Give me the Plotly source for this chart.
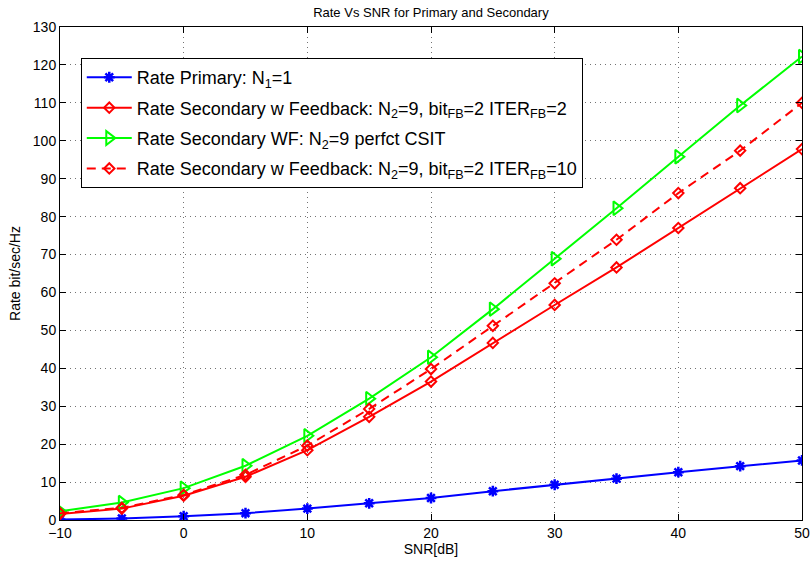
import plotly.graph_objects as go

# SNR sweep in dB
snr_db = [-10, -5, 0, 5, 10, 15, 20, 25, 30, 35, 40, 45, 50]

# Achievable rates (bit/sec/Hz)
rate_primary = [0.1, 0.4, 1.0, 1.8, 3.0, 4.4, 5.8, 7.6, 9.3, 10.9, 12.6, 14.2, 15.7]
rate_sec_fb2 = [1.6, 3.0, 6.4, 11.4, 18.4, 27.2, 36.5, 46.7, 56.7, 66.6, 77.0, 87.5, 97.8]
rate_sec_wf = [2.3, 4.6, 8.4, 14.3, 22.2, 32.0, 42.9, 55.6, 68.9, 82.2, 95.8, 109.3, 122.2]
rate_sec_fb10 = [1.8, 3.2, 6.6, 11.9, 19.6, 29.3, 39.8, 51.2, 62.4, 73.9, 86.2, 97.4, 110.0]

names = [
    "Rate Primary: N<sub>1</sub>=1",
    "Rate Secondary w Feedback: N<sub>2</sub>=9, bit<sub>FB</sub>=2 ITER<sub>FB</sub>=2",
    "Rate Secondary WF: N<sub>2</sub>=9 perfct CSIT",
    "Rate Secondary w Feedback: N<sub>2</sub>=9, bit<sub>FB</sub>=2 ITER<sub>FB</sub>=10",
]

FONT = "Liberation Sans, Arial, Helvetica, sans-serif"

diamond = dict(symbol="diamond-open", size=8, color="#ff0000",
               line=dict(color="#ff0000", width=2))

fig = go.Figure()
fig.add_trace(go.Scatter(
    x=snr_db, y=rate_primary, name=names[0], mode="lines+markers", legendgroup="a",
    line=dict(color="#0000ff", width=2),
    marker=dict(symbol="asterisk-open", size=9, line=dict(color="#0000ff", width=2.5)),
))
fig.add_trace(go.Scatter(
    x=snr_db, y=rate_sec_fb2, name=names[1], mode="lines+markers", legendgroup="b",
    line=dict(color="#ff0000", width=2), marker=diamond,
))
fig.add_trace(go.Scatter(
    x=snr_db, y=rate_sec_wf, name=names[2], mode="lines+markers", legendgroup="c",
    line=dict(color="#00ff00", width=2),
    marker=dict(symbol="triangle-right-open", size=12, color="#00ff00",
                line=dict(color="#00ff00", width=2)),
))
fig.add_trace(go.Scatter(
    x=snr_db, y=rate_sec_fb10, name=names[3], mode="lines+markers", legendgroup="d",
    line=dict(color="#ff0000", width=2, dash="9px,6px"), marker=diamond,
))

axis_common = dict(
    showline=True, linecolor="black", linewidth=1, mirror="ticks",
    ticks="inside", ticklen=6, tickcolor="black", automargin=False,
    showgrid=True, gridcolor="rgba(0,0,0,0.55)", griddash="1px,4px", gridwidth=1,
    zeroline=False, tickfont=dict(family=FONT, size=14, color="black"),
)

fig.update_xaxes(
    range=[-10, 50], tickmode="array", tickvals=[-10, 0, 10, 20, 30, 40, 50],
    title=dict(text="SNR[dB]", font=dict(family=FONT, size=14, color="black"), standoff=4),
    **axis_common,
)
fig.update_yaxes(
    range=[0, 130], tickmode="array", tickvals=list(range(0, 131, 10)),
    title=dict(text="Rate bit/sec/Hz", font=dict(family=FONT, size=14, color="black"), standoff=8),
    **axis_common,
)

fig.update_layout(
    width=810, height=565,
    margin=dict(l=60, r=8, t=27, b=45),
    paper_bgcolor="white", plot_bgcolor="white",
    title=dict(text="Rate Vs SNR for Primary and Secondary", x=0.532, xanchor="center",
               y=0.978, yanchor="middle",
               font=dict(family=FONT, size=13, color="black")),
    legend=dict(
        x=0.028, y=0.937, xanchor="left", yanchor="top",
        bgcolor="white", bordercolor="black", borderwidth=1,
        font=dict(family=FONT, size=18, color="black"),
        itemwidth=45, tracegroupgap=4,
    ),
    showlegend=True,
)

fig.write_html("out.html")
